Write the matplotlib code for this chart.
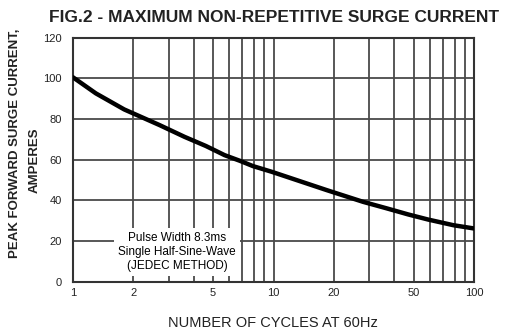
import numpy as np
import matplotlib.pyplot as plt

# curve
cycles = [1, 1.3, 1.8, 2.7, 3.6, 4.6, 5.7, 6.8, 7.9, 9.8, 18.4, 28, 36.7, 47, 59, 79, 100]
surge_amps = [100.5, 92.6, 84.7, 77.0, 71.2, 66.7, 62.2, 59.4, 56.8, 54.0, 45.0, 39.2, 36.0, 33.0, 30.5, 27.7, 26.1]

xticks = [1, 2, 5, 10, 20, 50, 100]
xtick_labels = ["1", "2", "5", "10", "20", "50", "100"]
yticks = [0, 20, 40, 60, 80, 100, 120]

plt.rcParams['font.family'] = ['Liberation Sans', 'DejaVu Sans']

fig = plt.figure(figsize=(5.05, 3.36), dpi=100)
ax = fig.add_axes([73 / 505, 1 - 281.5 / 336, 401 / 505, 243.8 / 336])

ax.set_xscale("log")
ax.set_xlim(1, 100)
ax.set_ylim(0, 120)

# grid: every integer in each decade
for d in [1, 10]:
    for k in range(2, 10):
        ax.axvline(k * d, color="#4a4a4a", lw=1.3, zorder=1)
ax.axvline(10, color="#4a4a4a", lw=1.3, zorder=1)
for yv in yticks[1:-1]:
    ax.axhline(yv, color="#4a4a4a", lw=1.3, zorder=1)

ax.plot(cycles, surge_amps, color="black", lw=3.2, zorder=3,
        solid_capstyle="round", solid_joinstyle="round")

ax.set_xticks(xticks)
ax.set_xticklabels(xtick_labels)
ax.xaxis.set_minor_locator(plt.NullLocator())
ax.set_yticks(yticks)
ax.tick_params(length=0, labelsize=8, colors="#222222")
ax.tick_params(axis="x", pad=5)
ax.tick_params(axis="y", pad=8)
for s in ax.spines.values():
    s.set_linewidth(1.5)
    s.set_color("#333333")

ax.text(3.3, 14.5, "Pulse Width 8.3ms\nSingle Half-Sine-Wave\n(JEDEC METHOD)",
        ha="center", va="center", fontsize=8.5, linespacing=1.2, zorder=4,
        bbox=dict(facecolor="white", edgecolor="none", pad=3))

fig.text(0.542, 1 - 17 / 336, "FIG.2 - MAXIMUM NON-REPETITIVE SURGE CURRENT",
         ha="center", va="center", fontsize=12.5, fontweight="bold", color="#222222")
fig.text(0.54, 1 - 323 / 336, "NUMBER OF CYCLES AT 60Hz",
         ha="center", va="center", fontsize=10.5, color="#222222")
fig.text(15 / 505, 1 - 143 / 336, "PEAK FORWARD SURGE CURRENT,",
         ha="center", va="center", rotation=90, fontsize=9.5, fontweight="bold", color="#222222")
fig.text(35 / 505, 1 - 160 / 336, "AMPERES",
         ha="center", va="center", rotation=90, fontsize=9.5, fontweight="bold", color="#222222")

fig.savefig("out.png", dpi=100)
